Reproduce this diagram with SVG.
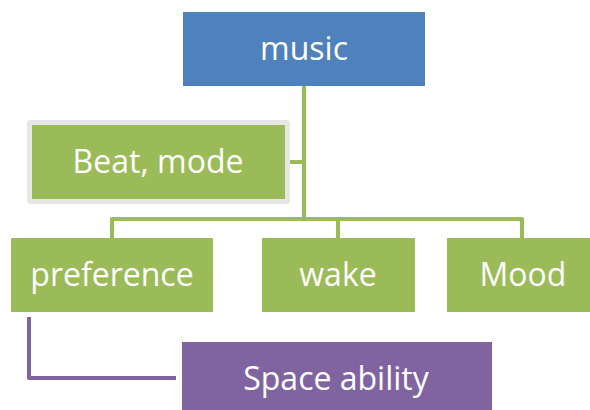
<svg xmlns="http://www.w3.org/2000/svg" width="590" height="410" viewBox="0 0 590 410">
<style>
.lbl{font-family:"Open Sans","Liberation Sans",sans-serif;font-size:32px;fill:#ffffff;text-anchor:middle}
.g{fill:#9BBB59}
.gl{fill:none;stroke:#9BBB59;stroke-width:4;stroke-linejoin:round}
.pl{fill:none;stroke:#8064A2;stroke-width:4;stroke-linejoin:round}
</style>
<rect width="590" height="410" fill="#ffffff"/>
<g id="connectors">
<path class="gl" d="M304 86 V219"/>
<path class="gl" d="M290 162 H304"/>
<path class="gl" d="M112 238 V219 H522 V238"/>
<path class="gl" d="M338 219 V238"/>
<path class="pl" d="M29 317 V378 H176"/>
</g>
<g id="music">
<rect x="183" y="12" width="242" height="74" fill="#4F81BD"/>
<text class="lbl" x="304" y="60">music</text>
</g>
<g id="beat-mode">
<rect x="27" y="120" width="263" height="84" rx="3" fill="#E6E6E6"/>
<rect x="32" y="125" width="253" height="74" class="g"/>
<text class="lbl" x="158" y="173">Beat, mode</text>
</g>
<g id="preference">
<rect x="11" y="238" width="202" height="74" class="g"/>
<text class="lbl" x="112" y="286">preference</text>
</g>
<g id="wake">
<rect x="262" y="238" width="153" height="74" class="g"/>
<text class="lbl" x="338" y="286">wake</text>
</g>
<g id="mood">
<rect x="447" y="238" width="153" height="74" class="g"/>
<text class="lbl" x="523" y="286">Mood</text>
</g>
<g id="space-ability">
<rect x="182" y="342" width="310" height="74" fill="#8064A2"/>
<text class="lbl" x="336" y="390">Space ability</text>
</g>
</svg>
